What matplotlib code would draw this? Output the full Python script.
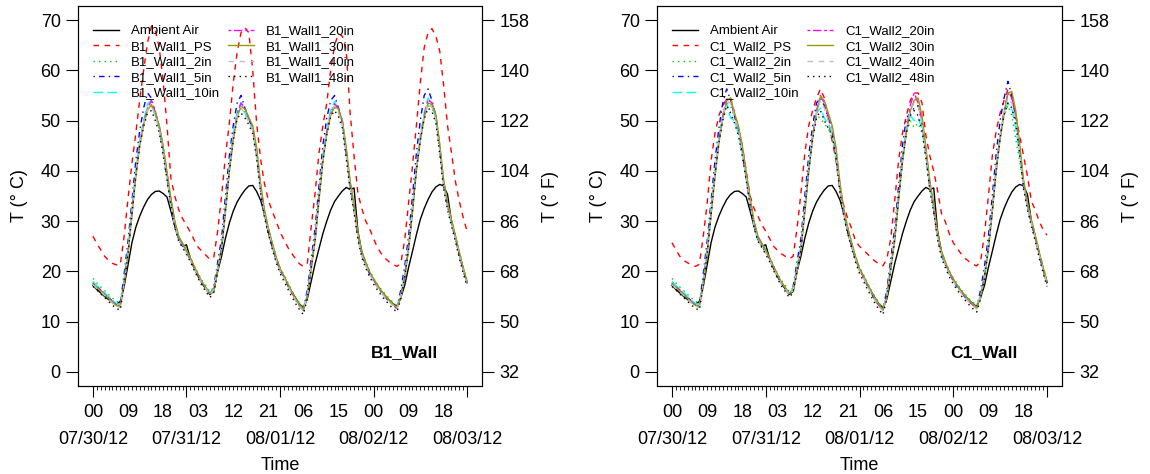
import numpy as np
import matplotlib
matplotlib.use("Agg")
from matplotlib import pyplot as plt

plt.rcParams["font.family"] = ["Liberation Sans", "DejaVu Sans"]

# hourly readings, 07/30/12 00:00 .. 08/03/12 00:00
ambient = [
    17.2, 16.4, 15.7, 15.0, 14.4, 13.8, 13.5, 14.0, 17.0, 21.3, 25.7, 28.8, 31.0, 32.8, 34.3, 35.3, 35.9, 36.0, 35.5, 34.8, 32.0, 29.0, 26.5, 25.0,
    25.3, 22.5, 20.6, 19.0, 17.6, 16.5, 15.4, 16.0, 20.0, 23.0, 26.6, 29.6, 32.0, 33.8, 35.1, 36.2, 37.0, 37.1, 35.9, 34.2, 31.5, 27.8, 25.0, 22.5,
    20.4, 19.0, 17.4, 16.0, 14.7, 13.5, 12.8, 14.5, 18.0, 21.5, 24.5, 27.5, 30.0, 32.2, 33.9, 35.0, 36.0, 36.7, 36.3, 36.6, 28.0, 23.8, 21.6, 19.8,
    18.4, 17.2, 16.1, 15.2, 14.3, 13.6, 13.0, 14.8, 17.2, 20.8, 24.0, 27.3, 30.3, 32.5, 34.3, 35.8, 36.8, 37.3, 37.0, 35.3, 30.0, 26.8, 23.5, 20.5, 17.8,
]

b1_ps = [
    27.0, 25.5, 24.3, 23.0, 22.2, 21.6, 21.3, 21.3, 27.0, 34.5, 41.5, 47.5, 54.2, 60.0, 65.5, 68.8, 68.0, 64.5, 58.0, 49.0, 38.5, 35.0, 32.3, 30.5,
    29.2, 27.8, 26.2, 24.8, 24.0, 23.2, 22.4, 22.8, 28.0, 35.0, 43.0, 49.5, 57.5, 63.6, 67.5, 68.5, 67.5, 60.0, 49.5, 42.5, 37.5, 34.2, 32.0, 30.0,
    27.9, 26.3, 24.8, 23.6, 22.5, 21.5, 21.0, 21.5, 28.8, 35.5, 43.5, 49.0, 53.5, 60.0, 65.0, 67.3, 66.8, 64.0, 51.5, 43.0, 35.5, 32.5, 30.0, 28.5,
    26.5, 24.8, 23.5, 22.6, 21.9, 21.4, 21.0, 21.6, 26.2, 33.6, 41.0, 49.0, 57.5, 64.5, 67.5, 68.3, 66.8, 63.8, 57.0, 49.0, 43.6, 38.0, 34.0, 30.8, 28.0,
]
b1_2in = [
    18.6, 17.7, 16.9, 16.2, 15.4, 14.7, 14.0, 13.8, 18.0, 24.0, 32.0, 39.5, 45.5, 49.5, 52.5, 53.0, 51.5, 48.8, 44.5, 39.3, 34.0, 29.6, 26.8, 25.6,
    24.3, 22.8, 21.1, 19.6, 18.2, 17.2, 16.0, 16.8, 20.5, 24.6, 32.5, 40.5, 46.8, 51.0, 52.5, 51.6, 50.3, 48.8, 44.0, 37.0, 32.0, 28.6, 25.7, 23.0,
    20.8, 19.4, 17.8, 16.3, 14.9, 13.7, 12.8, 15.3, 21.0, 26.6, 34.8, 42.5, 48.0, 51.5, 52.5, 51.8, 49.8, 44.0, 37.5, 33.0, 27.4, 23.9, 21.9, 20.1,
    18.7, 17.5, 16.4, 15.5, 14.6, 13.9, 13.2, 15.1, 19.2, 25.0, 32.3, 40.5, 46.5, 51.0, 53.0, 52.5, 50.5, 44.8, 37.7, 33.4, 30.2, 27.2, 23.9, 20.9, 18.3,
]
b1_5in = [
    17.8, 17.0, 16.3, 15.6, 14.8, 14.1, 13.4, 13.4, 19.5, 26.0, 34.0, 42.0, 48.0, 52.5, 55.5, 54.5, 51.5, 48.5, 43.8, 38.5, 33.3, 29.0, 26.3, 25.1,
    23.8, 22.3, 20.6, 19.1, 17.6, 16.6, 15.4, 16.9, 21.8, 26.5, 35.0, 43.0, 49.0, 53.5, 55.0, 52.5, 50.3, 48.3, 43.2, 36.2, 31.2, 27.9, 25.0, 22.4,
    20.2, 18.8, 17.2, 15.7, 14.3, 13.1, 12.3, 16.3, 22.5, 28.5, 37.0, 45.0, 50.5, 54.0, 55.0, 52.5, 49.5, 43.2, 36.7, 32.2, 26.7, 23.2, 21.3, 19.5,
    18.1, 16.9, 15.8, 14.9, 14.0, 13.3, 12.7, 16.3, 21.0, 27.0, 35.0, 43.5, 50.0, 55.0, 56.3, 54.0, 50.8, 44.3, 37.0, 32.8, 29.6, 26.6, 23.3, 20.3, 17.6,
]
b1_10in = [
    18.0, 17.2, 16.5, 15.8, 15.0, 14.3, 13.6, 13.4, 18.3, 24.5, 32.5, 40.0, 46.0, 50.0, 53.3, 54.0, 51.0, 48.5, 44.0, 38.8, 33.6, 29.2, 26.5, 25.3,
    24.0, 22.5, 20.8, 19.3, 17.8, 16.8, 15.6, 16.6, 20.8, 25.0, 33.0, 41.0, 47.3, 51.8, 53.6, 51.5, 50.0, 48.3, 43.5, 36.5, 31.5, 28.2, 25.3, 22.6,
    20.4, 19.0, 17.4, 15.9, 14.5, 13.3, 12.4, 15.5, 21.3, 27.0, 35.3, 43.0, 48.5, 52.0, 53.8, 52.0, 49.5, 43.5, 37.0, 32.5, 27.0, 23.5, 21.5, 19.7,
    18.3, 17.1, 16.0, 15.1, 14.2, 13.5, 12.8, 15.3, 19.5, 25.3, 32.8, 41.0, 47.0, 51.5, 54.5, 53.0, 50.5, 44.3, 37.2, 33.0, 29.8, 26.8, 23.5, 20.5, 17.8,
]
b1_20in = [
    17.6, 16.9, 16.2, 15.5, 14.7, 14.0, 13.3, 13.1, 17.6, 23.8, 31.6, 39.2, 45.3, 49.5, 52.5, 54.0, 51.8, 49.0, 44.8, 39.6, 34.4, 29.8, 26.9, 25.5,
    24.1, 22.6, 20.9, 19.3, 17.8, 16.7, 15.5, 16.2, 20.2, 24.5, 32.2, 40.2, 46.6, 51.2, 53.5, 52.5, 50.5, 48.8, 44.2, 37.2, 32.0, 28.5, 25.5, 22.7,
    20.4, 18.9, 17.3, 15.8, 14.4, 13.2, 12.2, 14.9, 20.8, 26.4, 34.5, 42.3, 47.8, 51.5, 53.3, 52.5, 50.0, 44.2, 37.6, 33.0, 27.4, 23.7, 21.6, 19.7,
    18.3, 17.1, 15.9, 15.0, 14.1, 13.3, 12.6, 14.9, 19.0, 24.7, 32.2, 40.4, 46.4, 51.0, 54.2, 53.5, 51.2, 45.0, 37.8, 33.4, 30.1, 27.0, 23.7, 20.6, 17.8,
]
b1_30in = [
    17.5, 16.8, 16.1, 15.4, 14.6, 13.9, 13.2, 13.0, 17.3, 23.4, 31.2, 38.8, 45.0, 49.2, 52.0, 53.2, 51.6, 49.0, 45.0, 39.8, 34.6, 30.0, 27.0, 25.6,
    24.2, 22.7, 21.0, 19.4, 17.9, 16.8, 15.6, 16.1, 20.0, 24.2, 31.8, 39.8, 46.2, 50.8, 52.8, 52.3, 50.6, 49.0, 44.6, 37.6, 32.3, 28.7, 25.7, 22.9,
    20.6, 19.1, 17.5, 16.0, 14.6, 13.4, 12.4, 14.7, 20.5, 26.0, 34.0, 41.8, 47.3, 51.0, 52.8, 52.3, 50.0, 44.6, 38.0, 33.3, 27.7, 24.0, 21.8, 19.9,
    18.5, 17.3, 16.1, 15.2, 14.3, 13.5, 12.8, 14.7, 18.7, 24.3, 31.8, 40.0, 46.0, 50.6, 53.5, 53.2, 51.2, 45.3, 38.2, 33.7, 30.3, 27.2, 23.9, 20.8, 18.0,
]
b1_40in = [
    17.3, 16.6, 15.9, 15.2, 14.4, 13.7, 13.0, 12.8, 17.8, 24.0, 31.8, 39.4, 45.4, 49.4, 52.2, 53.0, 50.8, 48.3, 43.8, 38.6, 33.4, 29.0, 26.3, 25.0,
    23.7, 22.2, 20.5, 19.0, 17.5, 16.5, 15.3, 16.3, 20.5, 24.7, 32.6, 40.5, 46.8, 51.2, 52.7, 51.2, 49.7, 48.0, 43.2, 36.3, 31.3, 28.0, 25.0, 22.3,
    20.1, 18.7, 17.1, 15.6, 14.2, 13.0, 12.1, 15.2, 21.0, 26.7, 35.0, 42.6, 48.0, 51.5, 53.0, 51.5, 49.2, 43.2, 36.8, 32.3, 26.8, 23.2, 21.2, 19.4,
    18.0, 16.8, 15.7, 14.8, 13.9, 13.2, 12.5, 15.0, 19.2, 25.0, 32.5, 40.6, 46.6, 51.0, 53.5, 52.6, 50.2, 44.0, 37.0, 32.8, 29.6, 26.6, 23.3, 20.3, 17.5,
]
b1_48in = [
    17.0, 16.3, 15.5, 14.8, 14.0, 13.3, 12.6, 12.3, 17.2, 23.5, 31.4, 39.0, 45.0, 48.8, 51.5, 52.0, 50.0, 47.6, 43.3, 38.2, 33.0, 28.7, 26.0, 24.7,
    23.4, 21.9, 20.2, 18.6, 17.1, 16.0, 14.8, 15.8, 20.0, 24.3, 32.2, 40.0, 46.0, 50.3, 51.5, 50.5, 49.2, 47.4, 42.6, 35.7, 30.8, 27.5, 24.5, 21.8,
    19.6, 18.1, 16.5, 15.0, 13.6, 12.4, 11.4, 14.6, 20.5, 26.2, 34.5, 42.0, 47.2, 50.8, 52.0, 50.8, 48.5, 42.5, 36.2, 31.8, 26.3, 22.7, 20.7, 18.9,
    17.5, 16.3, 15.2, 14.3, 13.4, 12.6, 11.9, 14.5, 18.8, 24.6, 32.0, 40.0, 46.0, 50.3, 52.5, 51.8, 49.5, 43.3, 36.4, 32.2, 29.0, 26.0, 22.7, 19.7, 17.0,
]

c1_ps = [
    25.7, 24.3, 23.0, 22.2, 21.7, 21.3, 21.0, 21.4, 27.0, 33.5, 42.0, 47.5, 51.0, 53.0, 54.3, 54.5, 51.5, 48.5, 45.0, 40.0, 35.0, 32.5, 31.0, 29.3,
    28.0, 26.5, 25.0, 24.2, 23.5, 23.0, 22.5, 23.0, 28.5, 35.5, 43.5, 49.0, 52.0, 54.5, 56.3, 54.5, 50.0, 46.0, 42.0, 36.0, 33.0, 30.5, 28.5, 26.0,
    25.0, 24.2, 23.5, 22.7, 22.0, 21.5, 21.1, 22.5, 26.5, 34.0, 42.0, 47.5, 51.0, 54.0, 55.5, 55.5, 53.5, 47.0, 43.0, 40.0, 36.0, 31.5, 29.8, 27.5,
    25.7, 24.6, 23.5, 22.6, 22.0, 21.4, 21.1, 22.0, 27.5, 35.0, 43.0, 48.0, 51.5, 54.0, 56.2, 54.5, 51.0, 47.0, 43.0, 39.0, 34.0, 32.2, 30.0, 28.3, 27.2,
]
c1_2in = [
    18.6, 17.7, 16.9, 16.2, 15.4, 14.7, 14.0, 13.8, 18.0, 24.0, 32.0, 39.5, 46.0, 50.5, 53.5, 53.0, 50.5, 48.0, 44.0, 39.0, 34.0, 29.6, 26.8, 25.6,
    24.3, 22.8, 21.1, 19.6, 18.2, 17.2, 16.0, 16.8, 20.5, 24.6, 32.5, 40.5, 46.8, 51.0, 50.5, 49.3, 48.5, 46.5, 42.5, 36.5, 32.0, 28.6, 25.7, 23.0,
    20.8, 19.4, 17.8, 16.3, 14.9, 13.7, 12.8, 15.3, 21.0, 26.6, 34.8, 42.5, 47.5, 50.0, 48.6, 49.5, 47.5, 43.0, 37.0, 32.8, 27.4, 23.9, 21.9, 20.1,
    18.7, 17.5, 16.4, 15.5, 14.6, 13.9, 13.2, 15.1, 19.2, 25.0, 32.3, 40.5, 46.5, 51.0, 53.0, 51.0, 46.3, 42.0, 37.0, 33.2, 30.2, 27.2, 23.9, 20.9, 18.3,
]
c1_5in = [
    17.8, 17.0, 16.3, 15.6, 14.8, 14.1, 13.4, 13.4, 19.5, 26.0, 34.0, 42.0, 48.5, 53.5, 56.3, 54.0, 51.0, 48.0, 43.5, 38.5, 33.3, 29.0, 26.3, 25.1,
    23.8, 22.3, 20.6, 19.1, 17.6, 16.6, 15.4, 16.9, 21.8, 26.5, 35.0, 43.0, 49.0, 53.5, 54.5, 53.0, 50.5, 48.0, 43.0, 36.2, 31.2, 27.9, 25.0, 22.4,
    20.2, 18.8, 17.2, 15.7, 14.3, 13.1, 12.3, 16.3, 22.5, 28.5, 37.0, 45.0, 50.5, 51.5, 52.5, 53.0, 49.5, 43.2, 36.7, 32.2, 26.7, 23.2, 21.3, 19.5,
    18.1, 16.9, 15.8, 14.9, 14.0, 13.3, 12.7, 16.3, 21.0, 27.0, 35.0, 43.5, 50.0, 54.5, 57.8, 55.0, 50.8, 44.3, 37.0, 32.8, 29.6, 26.6, 23.3, 20.3, 17.6,
]
c1_10in = [
    18.0, 17.2, 16.5, 15.8, 15.0, 14.3, 13.6, 13.4, 18.3, 24.5, 32.5, 40.0, 46.5, 51.0, 53.5, 50.5, 50.0, 47.5, 43.5, 38.5, 33.6, 29.2, 26.5, 25.3,
    24.0, 22.5, 20.8, 19.3, 17.8, 16.8, 15.6, 16.6, 20.8, 25.0, 33.0, 41.0, 47.3, 51.5, 52.5, 50.5, 49.5, 47.5, 43.0, 36.5, 31.5, 28.2, 25.3, 22.6,
    20.4, 19.0, 17.4, 15.9, 14.5, 13.3, 12.4, 15.5, 21.3, 27.0, 35.3, 43.0, 48.5, 51.0, 50.0, 50.5, 48.5, 43.2, 37.0, 32.5, 27.0, 23.5, 21.5, 19.7,
    18.3, 17.1, 16.0, 15.1, 14.2, 13.5, 12.8, 15.3, 19.5, 25.3, 32.8, 41.0, 47.0, 51.5, 53.5, 52.3, 48.5, 43.5, 37.2, 33.0, 29.8, 26.8, 23.5, 20.5, 17.8,
]
c1_20in = [
    17.6, 16.9, 16.2, 15.5, 14.7, 14.0, 13.3, 13.1, 17.6, 23.8, 31.6, 39.2, 46.0, 51.0, 54.3, 54.0, 51.0, 48.5, 44.5, 39.5, 34.4, 29.8, 26.9, 25.5,
    24.1, 22.6, 20.9, 19.3, 17.8, 16.7, 15.5, 16.2, 20.2, 24.5, 32.2, 40.2, 46.8, 52.0, 55.0, 53.5, 51.0, 48.5, 44.0, 37.2, 32.0, 28.5, 25.5, 22.7,
    20.4, 18.9, 17.3, 15.8, 14.4, 13.2, 12.2, 14.9, 20.8, 26.4, 34.5, 42.3, 48.0, 53.0, 55.5, 53.5, 50.0, 44.2, 37.6, 33.0, 27.4, 23.7, 21.6, 19.7,
    18.3, 17.1, 15.9, 15.0, 14.1, 13.3, 12.6, 14.9, 19.0, 24.7, 32.2, 40.4, 46.8, 52.0, 55.5, 54.5, 51.2, 45.0, 37.8, 33.4, 30.1, 27.0, 23.7, 20.6, 17.8,
]
c1_30in = [
    17.5, 16.8, 16.1, 15.4, 14.6, 13.9, 13.2, 13.0, 17.3, 23.4, 31.2, 38.8, 45.5, 50.5, 54.0, 54.5, 51.5, 49.0, 45.0, 39.8, 34.6, 30.0, 27.0, 25.6,
    24.2, 22.7, 21.0, 19.4, 17.9, 16.8, 15.6, 16.1, 20.0, 24.2, 31.8, 39.8, 46.5, 51.5, 54.8, 54.0, 51.5, 49.0, 44.6, 37.6, 32.3, 28.7, 25.7, 22.9,
    20.6, 19.1, 17.5, 16.0, 14.6, 13.4, 12.4, 14.7, 20.5, 26.0, 34.0, 41.8, 47.5, 52.0, 54.0, 54.5, 51.0, 44.6, 38.0, 33.3, 27.7, 24.0, 21.8, 19.9,
    18.5, 17.3, 16.1, 15.2, 14.3, 13.5, 12.8, 14.7, 18.7, 24.3, 31.8, 40.0, 46.5, 51.5, 55.5, 55.8, 52.0, 45.3, 38.2, 33.7, 30.3, 27.2, 23.9, 20.8, 18.0,
]
c1_40in = [
    17.3, 16.6, 15.9, 15.2, 14.4, 13.7, 13.0, 12.8, 17.8, 24.0, 31.8, 39.4, 45.8, 50.5, 53.8, 53.5, 50.8, 48.3, 43.8, 38.6, 33.4, 29.0, 26.3, 25.0,
    23.7, 22.2, 20.5, 19.0, 17.5, 16.5, 15.3, 16.3, 20.5, 24.7, 32.6, 40.5, 46.8, 51.5, 54.0, 52.5, 50.0, 48.0, 43.2, 36.3, 31.3, 28.0, 25.0, 22.3,
    20.1, 18.7, 17.1, 15.6, 14.2, 13.0, 12.1, 15.2, 21.0, 26.7, 35.0, 42.6, 48.0, 52.0, 53.5, 53.0, 49.5, 43.2, 36.8, 32.3, 26.8, 23.2, 21.2, 19.4,
    18.0, 16.8, 15.7, 14.8, 13.9, 13.2, 12.5, 15.0, 19.2, 25.0, 32.5, 40.6, 46.8, 51.5, 54.5, 53.5, 50.2, 44.0, 37.0, 32.8, 29.6, 26.6, 23.3, 20.3, 17.5,
]
c1_48in = [
    17.0, 16.3, 15.5, 14.8, 14.0, 13.3, 12.6, 12.3, 17.2, 23.5, 31.4, 39.0, 45.5, 50.0, 53.0, 51.5, 49.5, 47.0, 43.0, 38.0, 33.0, 28.7, 26.0, 24.7,
    23.4, 21.9, 20.2, 18.6, 17.1, 16.0, 14.8, 15.8, 20.0, 24.3, 32.2, 40.0, 46.2, 50.5, 52.0, 50.0, 48.5, 47.0, 42.5, 35.7, 30.8, 27.5, 24.5, 21.8,
    19.6, 18.1, 16.5, 15.0, 13.6, 12.4, 11.4, 14.6, 20.5, 26.2, 34.5, 42.0, 47.5, 51.0, 52.0, 51.0, 48.0, 42.5, 36.2, 31.8, 26.3, 22.7, 20.7, 18.9,
    17.5, 16.3, 15.2, 14.3, 13.4, 12.6, 11.9, 14.5, 18.8, 24.6, 32.0, 40.0, 46.5, 51.0, 53.5, 52.5, 49.5, 43.3, 36.4, 32.2, 29.0, 26.0, 22.7, 19.7, 17.0,
]

sensor_suffixes = ["PS", "2in", "5in", "10in", "20in", "30in", "40in", "48in"]
date_labels = ["07/30/12", "07/31/12", "08/01/12", "08/02/12", "08/03/12"]

# R-like line types (lty 1..6, recycled), scaled by line width
colors = ["black", "#FF0000", "#00CD00", "#0000FF", "#00FFFF", "#FF00FF", "#999900", "#BEBEBE", "black"]
dashes = [None, (4, 4), (1, 3), (1, 3, 4, 3), (7, 3), (2, 2, 6, 2), None, (4, 4), (1, 3)]


def draw_panel(ax, walls, prefix, tag):
    hours = np.arange(len(ambient))
    series = [ambient] + walls
    labels = ["Ambient Air"] + [f"{prefix}_{s}" for s in sensor_suffixes]
    for y, lab, col, d in zip(series, labels, colors, dashes):
        line, = ax.plot(hours, y, color=col, lw=1.0, label=lab)
        if d is not None:
            line.set_dashes(d)

    span = hours[-1] - hours[0]
    ax.set_xlim(hours[0] - 0.04 * span, hours[-1] + 0.04 * span)
    ax.set_ylim(-2.8, 72.8)

    # x axis: day boundaries (dates), hourly minor ticks, 9-hourly hour labels
    day_pos = hours[::24]
    ax.set_xticks(day_pos, labels=date_labels)
    ax.set_xticks(hours, minor=True)
    ax.tick_params(axis="x", which="major", length=7.8, width=0.8, pad=24.5, labelsize=13)
    ax.tick_params(axis="x", which="minor", length=3.0, width=0.6)
    sec = ax.secondary_xaxis("bottom")
    hr_pos = hours[:-1:9]
    sec.set_xticks(hr_pos, labels=[f"{h % 24:02d}" for h in hr_pos])
    sec.tick_params(length=0, pad=13, labelsize=13)
    sec.spines["bottom"].set_visible(False)
    ax.set_xlabel("Time", fontsize=13)
    ax.xaxis.set_label_coords(0.5, -0.186)

    ax.set_yticks(np.arange(0, 71, 10))
    ax.tick_params(axis="y", length=8.4, width=0.8, pad=4, labelsize=13)
    ax.set_ylabel("T (° C)", fontsize=13)
    ax.yaxis.set_label_coords(-0.124, 0.5)

    ax2 = ax.twinx()
    lo, hi = ax.get_ylim()
    ax2.set_ylim(lo * 1.8 + 32, hi * 1.8 + 32)
    ax2.set_yticks(np.arange(32, 159, 18))
    ax2.tick_params(axis="y", length=8.4, width=0.8, pad=4, labelsize=13)
    ax2.set_ylabel("T (° F)", fontsize=13)
    ax2.yaxis.set_label_coords(1.149, 0.5)

    for a in (ax, ax2):
        for sp in a.spines.values():
            sp.set_linewidth(0.8)

    ax.legend(loc="upper left", bbox_to_anchor=(0.037, 0.95), ncol=2, frameon=False,
              fontsize=9.5, handlelength=1.95, handletextpad=0.9, columnspacing=0.62,
              labelspacing=0.25, borderpad=0, borderaxespad=0)
    ax.text(0.891, 0.089, tag, transform=ax.transAxes, ha="right", va="center",
            fontsize=12.6, fontweight="bold")


fig = plt.figure(figsize=(11.5, 4.74), dpi=100)
ax_l = fig.add_axes([78 / 1150, 88 / 474, 404 / 1150, 380 / 474])
ax_r = fig.add_axes([657 / 1150, 88 / 474, 405 / 1150, 380 / 474])

draw_panel(ax_l, [b1_ps, b1_2in, b1_5in, b1_10in, b1_20in, b1_30in, b1_40in, b1_48in], "B1_Wall1", "B1_Wall")
draw_panel(ax_r, [c1_ps, c1_2in, c1_5in, c1_10in, c1_20in, c1_30in, c1_40in, c1_48in], "C1_Wall2", "C1_Wall")

fig.savefig("out.png", dpi=100)
